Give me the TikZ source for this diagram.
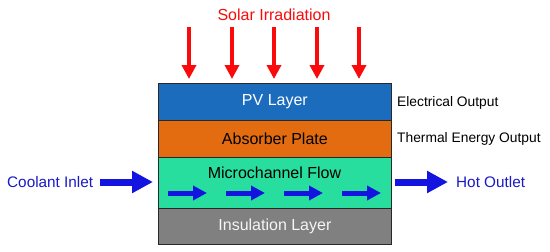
\documentclass[tikz,border=0pt]{standalone}
\usepackage{fontspec}
\setmainfont{Liberation Sans}
\usetikzlibrary{arrows.meta}
\definecolor{pvblue}{RGB}{28,108,190}
\definecolor{absorb}{RGB}{228,108,16}
\definecolor{mint}{RGB}{40,222,158}
\definecolor{insul}{RGB}{128,128,128}
\definecolor{flowblue}{RGB}{20,20,225}
\definecolor{txtblue}{RGB}{25,25,200}
\definecolor{solred}{RGB}{250,10,10}
\definecolor{edge}{RGB}{40,40,40}
\tikzset{
  layer/.style={draw=edge, line width=0.8pt, minimum width=233pt, inner sep=0pt, anchor=north west, font=\fontsize{16}{19}\selectfont},
  sunarrow/.style={draw=solred, line width=3.5pt, -{Triangle[length=14pt,width=14pt]}},
  bigarrow/.style={draw=flowblue, line width=7pt, -{Triangle[length=21pt,width=21pt]}},
  smallarrow/.style={draw=flowblue, line width=5pt, -{Triangle[length=14pt,width=14pt]}},
  sidelabel/.style={font=\fontsize{13.8}{17}\selectfont, anchor=west, inner sep=0pt},
  bluelabel/.style={font=\fontsize{15.3}{18}\selectfont, text=txtblue, inner sep=0pt}
}
\begin{document}
\begin{tikzpicture}[x=1pt,y=-1pt]
\useasboundingbox (0,0) rectangle (550,252);
% layers
\node[layer, fill=pvblue, minimum height=37pt, text=white] (pv) at (158,83) {PV Layer};
\node[layer, fill=absorb, minimum height=37pt, text=black] (ab) at (158,120) {Absorber Plate};
\node[layer, fill=mint, minimum height=51pt] (mc) at (158,157) {};
\node[layer, fill=insul, minimum height=36pt, text=white!92!gray] (in) at (158,208) {Insulation Layer};
\node[font=\fontsize{16}{19}\selectfont, inner sep=0pt] (mctext) at (274.5,173) {Microchannel Flow};
% solar
\node[font=\fontsize{16}{19}\selectfont, text=solred, inner sep=0pt] (sun) at (274,15) {Solar Irradiation};
\foreach \i/\x in {1/189,2/232,3/274,4/317,5/359}{
  \coordinate (s\i) at (\x,27);
  \coordinate (t\i) at (\x,79);
  \draw[sunarrow] (s\i) -- (t\i);
}
% inner flow arrows
\foreach \i/\x in {1/168,2/226,3/284,4/342}{
  \coordinate (f\i) at (\x,193);
  \coordinate (g\i) at (\x+39,193);
  \draw[smallarrow] (f\i) -- (g\i);
}
% inlet / outlet
\node[bluelabel, anchor=west] (inlet) at (7,182) {Coolant Inlet};
\coordinate (inA) at (100,182);
\coordinate (inB) at (153,182);
\draw[bigarrow] (inA) -- (inB);
\coordinate (outA) at (395,182);
\coordinate (outB) at (448,182);
\draw[bigarrow] (outA) -- (outB);
\node[bluelabel, anchor=west] (outlet) at (456,182) {Hot Outlet};
% right labels
\node[sidelabel] (elec) at (397,103) {Electrical Output};
\node[sidelabel] (therm) at (397,139) {Thermal Energy Output};
\end{tikzpicture}
\end{document}
